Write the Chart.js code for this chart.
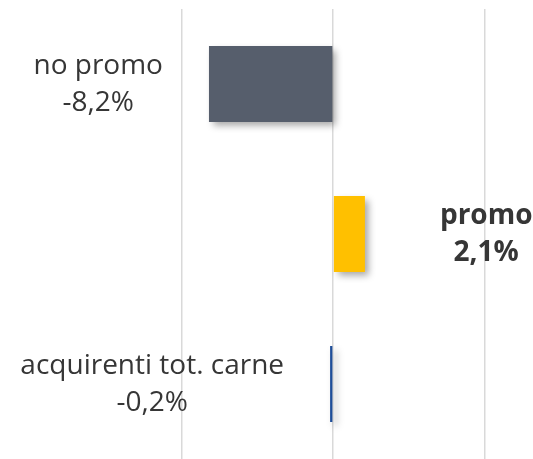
<!DOCTYPE html>
<html>
<head>
<meta charset="utf-8">
<script src="https://cdn.jsdelivr.net/npm/chart.js@4/dist/chart.umd.min.js"></script>
<style>
  html, body { margin: 0; padding: 0; background: #fff; }
  #wrap { width: 533px; height: 459px; }
</style>
</head>
<body>
<div id="wrap"><canvas id="canvas_promo"></canvas></div>
<script>

var categories = ["no promo", "promo", "acquirenti tot. carne"];
var values = [-8.2, 2.1, -0.2];
var value_labels = ["-8,2%", "2,1%", "-0,2%"];
var bar_colors = ["#565e6c", "#ffc000", "#1f4e99"];
var bold_labels = [false, true, false];
var grid_ticks = [-10, 0, 10];

// drop shadow under the bars
var shadowPlugin = {
  id: 'shadow',
  beforeDatasetsDraw: function(chart) {
    var ctx = chart.ctx;
    ctx.save();
    ctx.shadowColor = 'rgba(0,0,0,0.35)';
    ctx.shadowBlur = 7;
    ctx.shadowOffsetX = 4;
    ctx.shadowOffsetY = 4;
  },
  afterDatasetsDraw: function(chart) {
    chart.ctx.restore();
  }
};

// two line labels next to every bar
var labelPlugin = {
  id: 'barLabels',
  afterDatasetsDraw: function(chart) {
    var ctx = chart.ctx;
    var meta = chart.getDatasetMeta(0);
    meta.data.forEach(function(bar, i) {
      var lines = [categories[i], value_labels[i]];
      ctx.save();
      ctx.font = (bold_labels[i] ? 'bold ' : '') + '28px "Open Sans", sans-serif';
      ctx.fillStyle = '#363636';
      ctx.textAlign = 'center';
      ctx.textBaseline = 'middle';
      var w = Math.max(ctx.measureText(lines[0]).width, ctx.measureText(lines[1]).width);
      var cx;
      if (values[i] < 0) {
        cx = bar.x - 46 - w / 2;
      } else {
        cx = bar.x + 75 + w / 2;
      }
      ctx.fillText(lines[0], cx, bar.y - 18);
      ctx.fillText(lines[1], cx, bar.y + 19);
      ctx.restore();
    });
  }
};

var ctxB = document.getElementById("canvas_promo").getContext('2d');
var myBarChart = new Chart(ctxB, {
  type: 'bar',
  data: {
    labels: categories,
    datasets: [{
      data: values,
      backgroundColor: bar_colors,
      borderWidth: 0,
      categoryPercentage: 1,
      barPercentage: 0.507
    }]
  },
  options: {
    indexAxis: 'y',
    responsive: true,
    maintainAspectRatio: false,
    animation: false,
    layout: { padding: { top: 9, left: 0, right: 0, bottom: 0 } },
    plugins: {
      legend: { display: false },
      tooltip: { enabled: false }
    },
    scales: {
      x: {
        min: -22,
        max: 13.2,
        afterBuildTicks: function(scale) {
          scale.ticks = grid_ticks.map(function(v) { return { value: v }; });
        },
        ticks: { display: false },
        border: { display: false },
        grid: { color: '#d9d9d9', lineWidth: 1.5, drawTicks: false }
      },
      y: {
        display: false
      }
    }
  },
  plugins: [shadowPlugin, labelPlugin]
});

</script>
</body>
</html>
